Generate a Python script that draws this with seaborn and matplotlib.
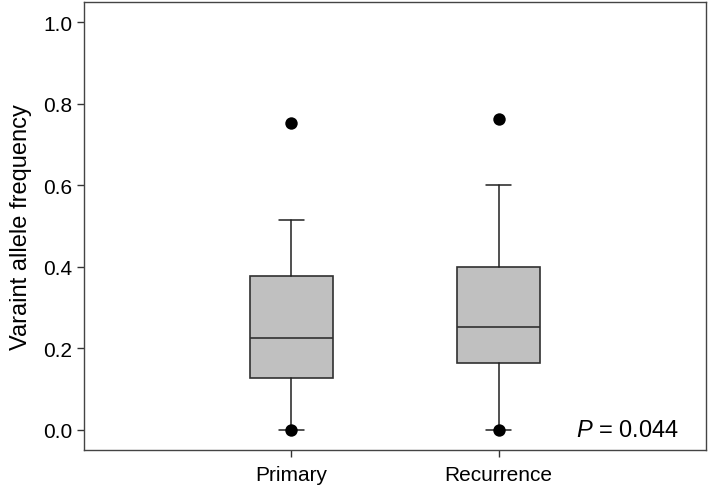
import pandas as pd
import matplotlib
matplotlib.use("Agg")
import matplotlib.pyplot as plt
import seaborn as sns

groups = ["Primary", "Recurrence"]
q1 = [0.127, 0.163]
medians = [0.224, 0.251]
q3 = [0.376, 0.400]
whisk_lo = [0.0, 0.0]
whisk_hi = [0.514, 0.601]
dots_hi = [0.753, 0.763]
dots_lo = [0.0, 0.0]

sns.set_style("white")
plt.rcParams["font.family"] = ["Liberation Sans", "DejaVu Sans"]
plt.rcParams["mathtext.fontset"] = "custom"
plt.rcParams["mathtext.it"] = "Liberation Sans:italic"
plt.rcParams["mathtext.rm"] = "Liberation Sans"
plt.rcParams["text.color"] = "black"
plt.rcParams["axes.labelcolor"] = "black"
plt.rcParams["xtick.color"] = "black"
plt.rcParams["ytick.color"] = "black"

fig = plt.figure(figsize=(7.09, 4.89), dpi=100)
ax = fig.add_axes([0.1185, 0.0777, 0.8773, 0.9162])

stats = []
for i, g in enumerate(groups):
    stats.append(dict(label=g, q1=q1[i], med=medians[i], q3=q3[i],
                      whislo=whisk_lo[i], whishi=whisk_hi[i], fliers=[]))

ax.bxp(stats, positions=range(len(groups)), widths=0.4, patch_artist=True,
       boxprops=dict(facecolor="#c0c0c0", edgecolor="#303030", linewidth=1.2),
       medianprops=dict(color="#303030", linewidth=1.2),
       whiskerprops=dict(color="#202020", linewidth=1.1),
       capprops=dict(color="#202020", linewidth=1.1),
       capwidths=0.12, manage_ticks=False)

pts = pd.DataFrame({
    "pos": list(range(len(groups))) * 2,
    "vaf": dots_hi + dots_lo,
})
sns.scatterplot(data=pts, x="pos", y="vaf", color="black", s=80,
                edgecolor="black", linewidth=0, ax=ax, zorder=5)

ax.set_xlim(-1, 2)
ax.set_ylim(-0.05, 1.05)
ax.set_xticks(range(len(groups)))
ax.set_xticklabels(groups)
ax.set_yticks([0.0, 0.2, 0.4, 0.6, 0.8, 1.0])
ax.set_yticklabels(["0.0", "0.2", "0.4", "0.6", "0.8", "1.0"])
ax.set_xlabel("")
ax.set_ylabel("Varaint allele frequency", fontsize=17, labelpad=8)
ax.tick_params(axis="both", direction="out", length=5, width=1, color="#333333",
               labelsize=15, bottom=True, left=True)
ax.tick_params(axis="x", labelsize=15, pad=6)
for sp in ax.spines.values():
    sp.set_color("#444444")
    sp.set_linewidth(1.0)

ax.text(1.87, 0.0, "$P$ = 0.044", fontsize=17, ha="right", va="center")

fig.savefig("out.png", dpi=100)
